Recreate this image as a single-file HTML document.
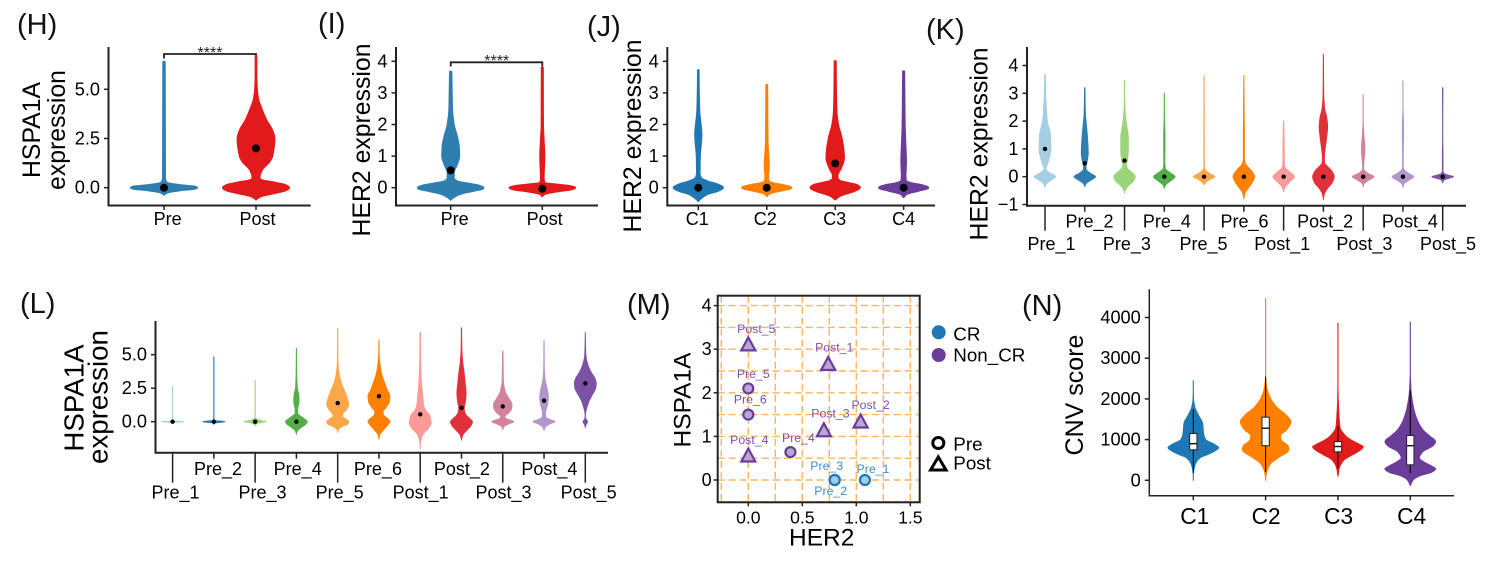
<!DOCTYPE html>
<html lang="en">
<head>
<meta charset="utf-8">
<title>Expression violin panels H to N</title>
<style>
html,body{margin:0;padding:0;background:#fff;}
svg{display:block;}
text{font-family:"Liberation Sans",Arial,sans-serif;fill:#000;dominant-baseline:central;}
.mid{text-anchor:middle;}
.letter{font-size:29px;fill:#111;}
.title{font-size:24.8px;text-anchor:middle;}
.stars{font-size:16px;text-anchor:middle;dominant-baseline:auto;fill:#222;}
.leg{font-size:18.8px;}
</style>
</head>
<body>
<svg id="figure" xmlns="http://www.w3.org/2000/svg" width="1512" height="570" viewBox="0 0 1512 570">
  <rect width="1512" height="570" fill="#fff"/>
  <text class="letter" x="17" y="25">(H)</text>
  <text class="letter" x="318" y="24">(I)</text>
  <text class="letter" x="587" y="27">(J)</text>
  <text class="letter" x="926" y="30">(K)</text>
  <text class="letter" x="20" y="304">(L)</text>
  <text class="letter" x="627" y="305">(M)</text>
  <text class="letter" x="1022" y="306">(N)</text>

  <text class="title" transform="translate(32.5 130) rotate(-90)">HSPA1A</text>
  <text class="title" transform="translate(57.5 130) rotate(-90)">expression</text>
  <text class="title" transform="translate(362.5 140) rotate(-90)">HER2 expression</text>
  <text class="title" transform="translate(633.5 136) rotate(-90)">HER2 expression</text>
  <text class="title" transform="translate(980 144) rotate(-90)">HER2 expression</text>
  <text class="title" style="font-size:27.7px" transform="translate(74 398) rotate(-90)">HSPA1A</text>
  <text class="title" style="font-size:27.7px" transform="translate(98 397) rotate(-90)">expression</text>
  <text class="title" style="font-size:24.5px" transform="translate(683 400) rotate(-90)">HSPA1A</text>
  <text class="title" style="font-size:24.5px" x="821.7" y="538">HER2</text>
  <text class="title" style="font-size:25px" transform="translate(1075 395) rotate(-90)">CNV score</text>

  <path d="M164 58.5V54H256V58.5" fill="none" stroke="#222" stroke-width="1.8"/>
  <text class="stars" x="210" y="58">****</text>
  <path d="M450.7 66.5V62.3H542.3V66.5" fill="none" stroke="#222" stroke-width="1.8"/>
  <text class="stars" x="496.7" y="66">****</text>

  <g>
    <circle cx="938.7" cy="332.3" r="7" fill="#1f78b4"/>
    <text class="leg" x="953.3" y="334">CR</text>
    <circle cx="938.7" cy="355" r="7" fill="#6a3d9a"/>
    <text class="leg" x="953.3" y="355">Non_CR</text>
    <circle cx="938.3" cy="443" r="5.5" fill="none" stroke="#000" stroke-width="3"/>
    <text class="leg" x="953.3" y="444">Pre</text>
    <path d="M938.3 457L946 470H930.6Z" fill="none" stroke="#000" stroke-width="3" stroke-linejoin="miter"/>
    <text class="leg" x="953.3" y="463">Post</text>
  </g>
</svg>
<script>
/* ---------- chart data: each profile is [expression value, relative density] ---------- */
const hPre=[[-.35,.03],[-.25,.12],[-.12,.55],[-.05,.94],[0,1],[.05,.94],[.12,.55],[.25,.12],[.35,.075],[.5,.06],[3,.055],[6.4,.05]];
const hPost=[[-.6,.02],[-.45,.15],[-.3,.5],[-.12,.92],[0,1],[.13,.9],[.25,.6],[.4,.18],[.5,.13],[.9,.2],[1.3,.41],[1.57,.5],[2.5,.57],[2.93,.5],[3.44,.33],[4.1,.17],[4.45,.1],[5,.055],[5.8,.04],[6.7,.04]];
const hCategories=['Pre','Post'];
const hMeans=[0,2];
const hTicks=[0,2.5,5];
const hTickLabels=['0.0','2.5','5.0'];

const iPre=[[-.38,.02],[-.3,.12],[-.2,.3],[-.1,.7],[-.03,.98],[0,1],[.07,.85],[.12,.6],[.2,.22],[.3,.12],[.5,.12],[.7,.2],[1,.28],[1.3,.27],[1.6,.22],[2,.12],[2.5,.07],[3,.06],[3.67,.05]];
const iPost=[[-.27,.02],[-.2,.1],[-.12,.45],[-.05,.9],[0,1],[.05,.85],[.1,.45],[.15,.1],[.3,.07],[1,.09],[1.5,.07],[2,.05],[3.8,.045]];
const iCategories=['Pre','Post'];
const iMeans=[.55,-.03];
const her2Ticks=[0,1,2,3,4];
const her2TickLabels=['0','1','2','3','4'];

const jC1=[[-.42,.03],[-.3,.2],[-.2,.4],[-.1,.8],[0,1],[.1,.8],[.2,.4],[.3,.15],[.4,.1],[.5,.09],[1,.1],[1.5,.15],[1.7,.16],[2,.13],[2.4,.08],[3,.06],[3.72,.05]];
const jC2=[[-.27,.03],[-.18,.15],[-.1,.55],[0,1],[.08,.7],[.15,.25],[.2,.12],[.35,.09],[.7,.12],[1,.1],[1.5,.07],[3.25,.055]];
const jC3=[[-.37,.03],[-.25,.25],[-.1,.8],[0,1],[.08,.9],[.15,.55],[.22,.22],[.3,.13],[.4,.13],[.6,.25],[.95,.38],[1.2,.36],[1.6,.28],[2,.15],[2.4,.09],[3,.07],[4,.06]];
const jC4=[[-.3,.03],[-.2,.15],[-.1,.6],[0,1],[.08,.75],[.15,.3],[.22,.13],[.4,.11],[.8,.13],[1.5,.1],[2,.08],[3.68,.06]];
const clusterCategories=['C1','C2','C3','C4'];
const jMeans=[0,0,.77,0];

const kPre1=[[-.38,.03],[-.25,.18],[-.12,.6],[0,1],[.12,.55],[.25,.15],[.3,.13],[.5,.3],[1,.57],[1.5,.54],[1.75,.4],[2.04,.24],[2.6,.15],[3,.1],[3.68,.07]];
const kPre2=[[-.36,.03],[-.25,.15],[-.12,.6],[0,1],[.12,.55],[.25,.18],[.35,.15],[.6,.28],[.84,.35],[1.5,.27],[1.8,.2],[2.3,.1],[3.2,.06]];
const kPre3=[[-.58,.03],[-.45,.15],[-.3,.45],[-.15,.85],[0,1],[.15,.7],[.3,.3],[.4,.2],[.6,.3],[1,.38],[1.4,.38],[1.8,.25],[2.2,.12],[2.6,.07],[3.47,.05]];
const kPre4=[[-.42,.03],[-.3,.15],[-.15,.6],[0,1],[.12,.65],[.22,.3],[.3,.13],[.6,.09],[1,.1],[1.5,.1],[2,.06],[3,.04]];
const kPre5=[[-.3,.03],[-.2,.2],[-.1,.55],[0,1],[.1,.6],[.2,.25],[.3,.07],[1,.065],[3.63,.05]];
const kPre6=[[-.8,.03],[-.6,.14],[-.4,.45],[-.2,.8],[0,1],[.2,.75],[.4,.3],[.5,.15],[.7,.09],[1.5,.09],[2,.08],[3.63,.045]];
const kPost1=[[-.54,.03],[-.4,.14],[-.2,.55],[0,1],[.15,.65],[.3,.22],[.4,.12],[1,.1],[1.5,.08],[2,.05]];
const kPost2=[[-.82,.03],[-.6,.15],[-.4,.45],[-.2,.85],[0,1],[.2,.8],[.35,.45],[.5,.15],[.7,.13],[1,.2],[1.4,.33],[1.8,.42],[2.1,.35],[2.5,.14],[3,.07],[4.4,.05]];
const kPost3=[[-.36,.03],[-.25,.12],[-.12,.55],[0,1],[.1,.55],[.2,.2],[.3,.08],[.6,.13],[1,.2],[1.4,.13],[2,.05],[2.95,.03]];
const kPost4=[[-.38,.03],[-.25,.14],[-.12,.6],[0,1],[.12,.55],[.25,.15],[.35,.07],[1,.08],[1.7,.1],[2.5,.05],[3.45,.04]];
const kPost5=[[-.22,.03],[-.12,.15],[-.05,.65],[0,1],[.05,.6],[.12,.15],[.2,.07],[.7,.07],[1.5,.05],[3.2,.06]];
const sampleCategories=['Pre_1','Pre_2','Pre_3','Pre_4','Pre_5','Pre_6','Post_1','Post_2','Post_3','Post_4','Post_5'];
const kMeans=[1,.48,.58,0,0,0,0,0,0,0,0];
const kTicks=[-1,0,1,2,3,4];
const kTickLabels=['\u22121','0','1','2','3','4'];

const lPre1=[[-.08,.02],[-.05,.2],[0,1],[.05,.2],[.1,.05],[2.66,.05]];
const lPre2=[[-.2,.02],[-.1,.1],[-.03,.8],[0,1],[.03,.8],[.1,.1],[.4,.05],[1,.05],[4.83,.05]];
const lPre3=[[-.3,.02],[-.15,.2],[-.05,.6],[0,1],[.07,.6],[.2,.2],[.3,.05],[.8,.05],[3.1,.03]];
const lPre4=[[-.95,.03],[-.7,.12],[-.4,.5],[-.2,.85],[0,1],[.2,.75],[.45,.35],[.6,.15],[.9,.15],[1.5,.27],[2,.25],[2.5,.12],[3.5,.07],[5.47,.04]];
const lPre5=[[-.8,.03],[-.55,.13],[-.35,.45],[-.15,.95],[0,1],[.2,.75],[.4,.45],[.6,.5],[.9,.8],[1.3,1],[1.7,.9],[2.3,.65],[2.8,.4],[3.5,.18],[4.3,.08],[5,.06],[6.97,.05]];
const lPre6=[[-1.3,.03],[-1,.1],[-.7,.35],[-.3,.75],[0,1],[.2,.85],[.5,.45],[.75,.4],[1,.6],[1.5,.95],[1.9,1],[2.4,.75],[3,.5],[3.5,.3],[4,.18],[5,.06],[6.1,.05]];
const lPost1=[[-2.04,.02],[-1.5,.08],[-1,.25],[-.5,.75],[-.1,1],[.2,.95],[.5,.85],[.8,.55],[1.2,.35],[2,.25],[3,.15],[4,.1],[5,.08],[6.67,.06]];
const lPost2=[[-1.37,.03],[-1,.15],[-.6,.55],[-.25,.9],[0,1],[.2,.8],[.5,.45],[.8,.3],[1,.28],[1.5,.38],[2.1,.44],[3,.35],[3.8,.25],[4.6,.13],[5.5,.07],[7,.05]];
const lPost3=[[-.58,.03],[-.35,.15],[-.15,.6],[0,1],[.1,.75],[.25,.3],[.4,.22],[.65,.55],[1,.82],[1.3,.85],[1.7,.6],[2.2,.28],[3,.1],[5.27,.06]];
const lPost4=[[-.67,.03],[-.4,.15],[-.15,.6],[0,1],[.15,.6],[.3,.25],[.45,.18],[.7,.18],[1.2,.32],[1.8,.42],[2.5,.3],[3.2,.13],[4,.07],[6.05,.05]];
const lPost5=[[-.42,.02],[-.2,.12],[0,.24],[.2,.1],[.4,.05],[.7,.08],[1,.16],[1.5,.35],[2,.65],[2.5,.95],[2.85,1],[3.2,.9],[3.7,.55],[4.3,.25],[5,.09],[6.64,.04]];
const lMeans=[0,0,0,0,1.39,1.9,.55,1.04,1.14,1.57,2.86];
const lTicks=[0,2.5,5];
const lTickLabels=['0.0','2.5','5.0'];

const nC1=[[0,.01],[200,.03],[400,.1],[560,.3],[640,.6],[720,.85],[800,1],[880,.85],[1000,.5],[1150,.42],[1400,.38],[1600,.22],[1800,.08],[2000,.03],[2450,.015]];
const nC2=[[0,.01],[200,.06],[400,.2],[550,.5],[750,.92],[830,.9],[1000,.62],[1100,.6],[1250,.85],[1440,1],[1600,.82],[1800,.45],[2000,.22],[2300,.06],[2600,.02],[4470,.01]];
const nC3=[[100,.02],[300,.07],[500,.25],[650,.65],[750,.9],[820,1],[900,.8],[1000,.5],[1100,.3],[1300,.1],[1600,.06],[2000,.03],[2400,.02],[3860,.02]];
const nC4=[[-130,.02],[0,.12],[100,.35],[200,.85],[280,1],[350,.85],[450,.55],[550,.37],[700,.5],[850,.9],[950,1],[1100,.75],[1250,.5],[1500,.28],[1800,.14],[2200,.05],[2700,.02],[3890,.015]];
const nQ1=[750,850,700,380];
const nMedian=[900,1280,830,850];
const nQ3=[1150,1550,950,1100];
const nWhiskerLow=[180,200,300,170];
const nWhiskerHigh=[1750,2550,1330,2200];
const nTicks=[0,1000,2000,3000,4000];
const nTickLabels=['0','1000','2000','3000','4000'];

const mNames=['Pre_1','Pre_2','Pre_3','Pre_4','Pre_5','Pre_6','Post_1','Post_2','Post_3','Post_4','Post_5'];
const mHer2=[1.08,.8,.8,.39,0,0,.74,1.04,.7,0,0];
const mHspa=[0,0,0,.64,2.1,1.5,2.65,1.33,1.13,.55,3.1];
const mResponse=['CR','CR','CR','Non_CR','Non_CR','Non_CR','Non_CR','Non_CR','Non_CR','Non_CR','Non_CR'];
const mXTicks=[0,.5,1,1.5];
const mXTickLabels=['0.0','0.5','1.0','1.5'];
const mYTicks=[0,1,2,3,4];
const mYTickLabels=['0','1','2','3','4'];
const mXGrid=[-.25,0,.25,.5,.75,1,1.25,1.5];
const mYGrid=[-.5,0,.5,1,1.5,2,2.5,3,3.5,4];

/* ---------- drawing ---------- */
const NS='http://www.w3.org/2000/svg';
const svg=document.getElementById('figure');
function mk(tag,name,attrs,parent){
  const e=document.createElementNS(NS,tag);
  
  
  for(const k in attrs){e.setAttribute(k,attrs[k]);}
  (parent||svg).appendChild(e);
  return e;
}
function label(name,str,x,y,size,anchor,parent){
  const e=mk('text',name,{x:x,y:y,'font-size':size,'text-anchor':anchor},parent);
  e.textContent=str;
  return e;
}
function smooth(profile){
  const n=profile.length,h=[],d=[],m=[],out=[];
  for(let i=0;i<n-1;i++){h[i]=profile[i+1][0]-profile[i][0];d[i]=(profile[i+1][1]-profile[i][1])/h[i];}
  m[0]=d[0];m[n-1]=d[n-2];
  for(let i=1;i<n-1;i++){
    if(d[i-1]*d[i]<=0){m[i]=0;}
    else{m[i]=3*(h[i-1]+h[i])/((2*h[i]+h[i-1])/d[i-1]+(h[i]+2*h[i-1])/d[i]);}
  }
  for(let i=0;i<n-1;i++){
    for(let j=0;j<8;j++){
      const t=j/8,t2=t*t,t3=t2*t;
      const w=(2*t3-3*t2+1)*profile[i][1]+(t3-2*t2+t)*h[i]*m[i]+(-2*t3+3*t2)*profile[i+1][1]+(t3-t2)*h[i]*m[i+1];
      out.push([profile[i][0]+t*h[i],w]);
    }
  }
  out.push(profile[n-1]);
  return out;
}
function violinPath(profile,cx,half,y,round){
  const pts=smooth(profile);
  const inset=round/2;
  const hw=p=>Math.max(.05,p[1]*half-inset);
  const L=pts.map(p=>(cx-hw(p)).toFixed(2)+' '+y(p[0]).toFixed(2));
  const R=pts.slice().reverse().map(p=>(cx+hw(p)).toFixed(2)+' '+y(p[0]).toFixed(2));
  return 'M'+L.join('L')+'L'+R.join('L')+'Z';
}
function slug(s){return s.toLowerCase().replace(/_/g,'-');}
function axes(p,g){
  mk('line',p.id+'-y-axis-line',{x1:p.left,x2:p.left,y1:p.top,y2:p.bottom+p.axisWidth/2,stroke:'#222','stroke-width':p.axisWidth},g);
  mk('line',p.id+'-x-axis-line',{x1:p.left,x2:p.right,y1:p.bottom,y2:p.bottom,stroke:'#222','stroke-width':p.axisWidth},g);
  p.ticks.forEach((t,i)=>{
    mk('line',p.id+'-y-tick-'+i,{x1:p.left-4.5,x2:p.left,y1:p.y(t),y2:p.y(t),stroke:'#222','stroke-width':1.5},g);
    label(p.id+'-y-tick-label-'+i,p.tickLabels[i],p.left-8.5,p.y(t),18.2,'end',g);
  });
}
function violinPanel(p){
  const g=mk('g',p.id+'-violin-panel',{});
  axes(p,g);
  p.categories.forEach((c,i)=>{
    const cx=p.x(i),nm=slug(c);
    mk('path',p.id+'-violin-'+nm,{d:violinPath(p.profiles[i],cx,p.half,p.y,p.round),fill:p.colors[i],stroke:p.colors[i],'stroke-width':p.round,'stroke-linejoin':'round'},g);
    if(p.staggered){
      const long=i%2===0;
      mk('line',p.id+'-x-tick-'+nm,{x1:cx,x2:cx,y1:p.bottom,y2:p.bottom+(long?p.longTick:6),stroke:'#222','stroke-width':1.5},g);
      label(p.id+'-x-label-'+nm,c,cx+p.labelNudge[i],p.bottom+(long?p.rowTwo:p.rowOne),18,'middle',g);
    }else{
      mk('line',p.id+'-x-tick-'+nm,{x1:cx,x2:cx,y1:p.bottom,y2:p.bottom+4.5,stroke:'#222','stroke-width':1.5},g);
      label(p.id+'-x-label-'+nm,c,cx+p.labelNudge[i],p.bottom+p.rowOne,p.labelSize||18,'middle',g);
    }
    if(p.means){
      mk('circle',p.id+'-mean-dot-'+nm,{cx:cx,cy:p.y(p.means[i]),r:p.dot,fill:'#000'},g);
    }
    if(p.box){
      const b=p.box,w=3.65,yq3=p.y(b.q3[i]),yq1=p.y(b.q1[i]);
      mk('line',p.id+'-whisker-'+nm,{x1:cx,x2:cx,y1:p.y(b.high[i]),y2:p.y(b.low[i]),stroke:'#000','stroke-width':1},g);
      mk('rect',p.id+'-box-'+nm,{x:cx-w,y:yq3,width:2*w,height:yq1-yq3,fill:'#fff',stroke:'#222','stroke-width':1},g);
      mk('line',p.id+'-median-'+nm,{x1:cx-w,x2:cx+w,y1:p.y(b.median[i]),y2:p.y(b.median[i]),stroke:'#111','stroke-width':1.4},g);
    }
  });
}
const twoColors=['#2e7fb0','#e31a1c'];
const clusterColors=['#1f78b4','#ff7f00','#e31a1c','#6a3d9a'];
const kColors=['#a6cee3','#2e7fb0','#9bd57a','#52ae46','#fda64a','#ff7f00','#fb9a99','#e0303c','#d0829f','#b295cc','#7b52a6'];

violinPanel({id:'h',left:108.5,right:310.7,top:47,bottom:205.5,axisWidth:2,round:2,
  x:i=>164+i*92,y:v=>187.7-v*19.68,half:34,dot:4,rowOne:13.5,labelNudge:[3.6,1.5],
  categories:hCategories,profiles:[hPre,hPost],means:hMeans,colors:twoColors,ticks:hTicks,tickLabels:hTickLabels});
violinPanel({id:'i',left:396,right:598,top:47,bottom:205.5,axisWidth:2,round:2,
  x:i=>450.7+i*91.6,y:v=>187.7-v*31.6,half:33.7,dot:4,rowOne:13.5,labelNudge:[3.9,2.3],
  categories:iCategories,profiles:[iPre,iPost],means:iMeans,colors:twoColors,ticks:her2Ticks,tickLabels:her2TickLabels});
violinPanel({id:'j',left:667.3,right:935,top:47,bottom:205.5,axisWidth:2,round:2,
  x:i=>698.3+i*68.45,y:v=>187.7-v*31.6,half:25.6,dot:4,rowOne:13.5,labelNudge:[-1,-1.5,-.5,0],
  categories:clusterCategories,profiles:[jC1,jC2,jC3,jC4],means:jMeans,colors:clusterColors,ticks:her2Ticks,tickLabels:her2TickLabels});
violinPanel({id:'k',left:1027,right:1466,top:47,bottom:205.7,axisWidth:2,round:1,staggered:true,longTick:25,rowOne:16,rowTwo:38.5,
  x:i=>1045+i*39.77,y:v=>176.7-v*27.8,half:11.2,dot:2.2,
  labelNudge:[6.5,4.7,2.4,2.6,-.6,.7,-1.3,1.8,1.2,7,5.3],
  categories:sampleCategories,profiles:[kPre1,kPre2,kPre3,kPre4,kPre5,kPre6,kPost1,kPost2,kPost3,kPost4,kPost5],means:kMeans,colors:kColors,ticks:kTicks,tickLabels:kTickLabels});
violinPanel({id:'l',left:155.5,right:608,top:321,bottom:452.7,axisWidth:2,round:1,staggered:true,longTick:30,rowOne:16.5,rowTwo:40,
  x:i=>172.6+i*41.27,y:v=>421.7-v*13.4,half:11.4,dot:2.2,
  labelNudge:[2.9,4.1,7.4,1.3,2,-1,.4,.4,.8,5.4,3.3],
  categories:sampleCategories,profiles:[lPre1,lPre2,lPre3,lPre4,lPre5,lPre6,lPost1,lPost2,lPost3,lPost4,lPost5],means:lMeans,colors:kColors,ticks:lTicks,tickLabels:lTickLabels});
violinPanel({id:'n',left:1149.3,right:1454,top:289.3,bottom:495.7,axisWidth:1.5,round:1,
  x:i=>1193.3+i*72.33,y:v=>480.3-v*0.0407,half:25.8,rowOne:20.5,labelSize:22.7,labelNudge:[1.4,.5,.7,1.3],
  categories:clusterCategories,profiles:[nC1,nC2,nC3,nC4],colors:clusterColors,ticks:nTicks,tickLabels:nTickLabels,
  box:{q1:nQ1,median:nMedian,q3:nQ3,low:nWhiskerLow,high:nWhiskerHigh}});

/* ---------- scatter panel M ---------- */
const mx=v=>748.3+v*108;
const my=v=>480-v*43.6;
const mLeft=717.7,mRight=919.7,mTop=295.7,mBottom=502.3;
const mLabelNudge=[[8,-11],[-4,11],[-8,-14],[8,-14],[5,-14.5],[2,-15],[6,-17],[10,-17],[6.5,-17],[1,-16],[8,-16]];
const mG=mk('g','m-scatter-panel',{});
mXGrid.forEach((v,i)=>{
  mk('line','m-vertical-gridline-'+i,{x1:mx(v),x2:mx(v),y1:mTop,y2:mBottom,stroke:'#fdb45c','stroke-width':1.4,'stroke-dasharray':'7 4'},mG);
});
mYGrid.forEach((v,i)=>{
  mk('line','m-horizontal-gridline-'+i,{x1:mLeft,x2:mRight,y1:my(v),y2:my(v),stroke:'#fdb45c','stroke-width':1.4,'stroke-dasharray':'7 4'},mG);
});
mk('rect','m-plot-frame',{x:mLeft,y:mTop,width:mRight-mLeft,height:mBottom-mTop,fill:'none',stroke:'#222','stroke-width':2},mG);
mXTicks.forEach((t,i)=>{
  mk('line','m-x-tick-'+i,{x1:mx(t),x2:mx(t),y1:mBottom,y2:mBottom+4,stroke:'#222','stroke-width':1.5},mG);
  label('m-x-tick-label-'+i,mXTickLabels[i],mx(t),517.7,17.6,'middle',mG);
});
mYTicks.forEach((t,i)=>{
  mk('line','m-y-tick-'+i,{x1:mLeft-4,x2:mLeft,y1:my(t),y2:my(t),stroke:'#222','stroke-width':1.5},mG);
  label('m-y-tick-label-'+i,mYTickLabels[i],mLeft-6,my(t),18,'end',mG);
});
mNames.forEach((n,i)=>{
  const cr=mResponse[i]==='CR';
  const stroke=cr?'#1f78b4':'#6a3d9a';
  const fill=cr?'#a3cde4':'#baa6d2';
  const px=mx(mHer2[i]),py=my(mHspa[i]),nm=slug(n);
  if(n.indexOf('Pre')===0){
    mk('circle','m-point-'+nm,{cx:px,cy:py,r:5,fill:fill,stroke:stroke,'stroke-width':2.2},mG);
  }else{
    mk('path','m-point-'+nm,{d:'M'+px+' '+(py-7.5)+'L'+(px+7)+' '+(py+5.5)+'H'+(px-7)+'Z',fill:fill,stroke:stroke,'stroke-width':2.2},mG);
  }
  const t=label('m-point-label-'+nm,n,px+mLabelNudge[i][0],py+mLabelNudge[i][1],12.3,'middle',mG);
  t.setAttribute('style','fill:'+(cr?'#3b8ec4':'#7a50ae'));
});
</script>
</body>
</html>
